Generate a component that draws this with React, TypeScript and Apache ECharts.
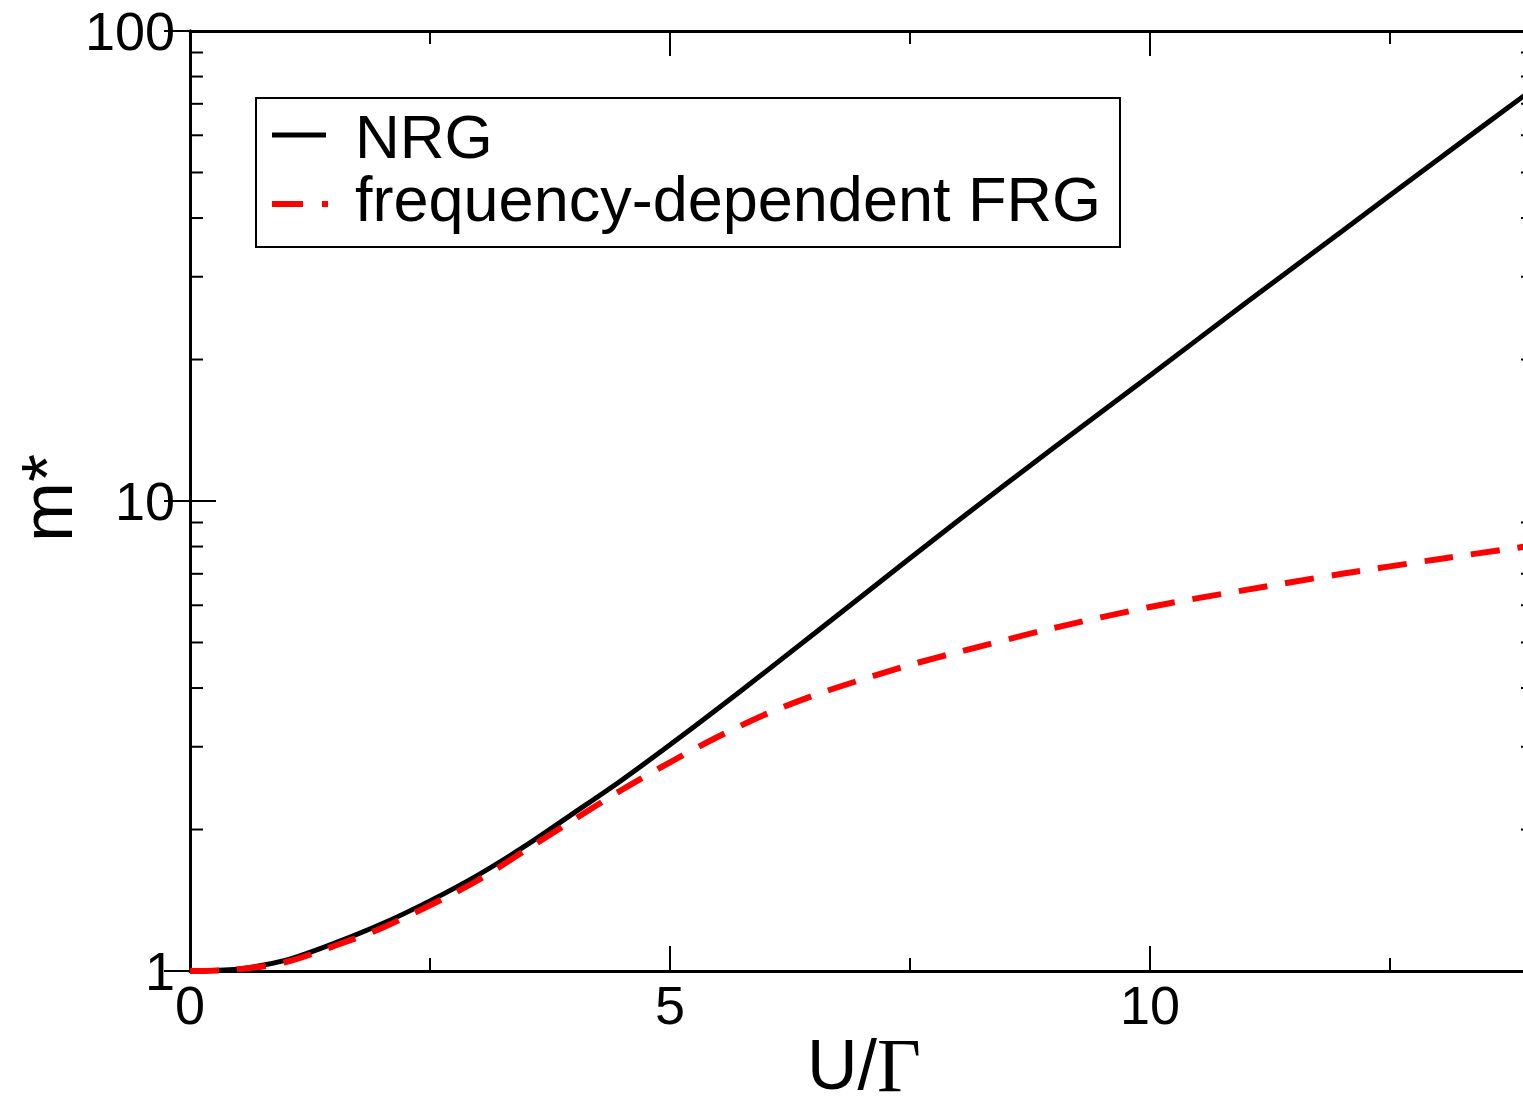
import React, { useEffect, useRef } from "react";
import * as echarts from "echarts";

// U/Gamma sample points
const uNRG = [0, 0.5, 1, 1.5, 2, 2.5, 3, 3.5, 4, 4.5, 5, 5.5, 6, 7, 8, 9, 10, 11, 12, 13, 14];
const mNRG = [1, 1.01, 1.055, 1.145, 1.26, 1.41, 1.6, 1.85, 2.17, 2.55, 3.03, 3.62, 4.34, 6.28, 9.08, 13.0, 18.5, 26.4, 37.5, 53.3, 75.5];

const uFRG = [0, 0.5, 1, 1.5, 2, 2.5, 3, 3.5, 4, 4.5, 5, 5.5, 6, 6.5, 7, 7.5, 8, 9, 10, 11, 12, 13, 14];
const mFRG = [1, 1.008, 1.045, 1.13, 1.235, 1.38, 1.56, 1.81, 2.1, 2.43, 2.78, 3.15, 3.52, 3.86, 4.17, 4.48, 4.77, 5.37, 5.95, 6.47, 7.0, 7.52, 8.05];

const xMinorTicks = [2.5, 7.5, 12.5];
const yMinorTicks = [2, 3, 4, 5, 6, 7, 8, 9, 20, 30, 40, 50, 60, 70, 80, 90];

const X_MIN = 0;
const X_MAX = 14;
const Y_MIN = 1;
const Y_MAX = 100;

const legendNames = ["NRG", "frequency-dependent FRG"];

const FONT = "Liberation Sans, Arial, Helvetica, sans-serif";

export default function App() {
  const ref = useRef<HTMLDivElement>(null);

  useEffect(() => {
    if (!ref.current) return;
    const chart = echarts.init(ref.current, null, { renderer: "svg" });

    const minorData: number[][] = [];
    yMinorTicks.forEach((v) => {
      minorData.push([X_MIN, v, 0]);
      minorData.push([X_MAX, v, 1]);
    });
    xMinorTicks.forEach((v) => {
      minorData.push([v, Y_MIN, 2]);
      minorData.push([v, Y_MAX, 3]);
    });

    const axisLine = { show: true, lineStyle: { color: "#000", width: 3 } };

    const option: any = {
      animation: false,
      backgroundColor: "#fff",
      grid: { left: 190, top: 31, width: 1344, height: 940, containLabel: false },
      xAxis: [
        {
          type: "value",
          min: X_MIN,
          max: X_MAX,
          interval: 5,
          position: "bottom",
          axisLine,
          axisTick: { show: true, inside: true, length: 25, lineStyle: { color: "#000", width: 2 } },
          axisLabel: {
            show: true,
            showMaxLabel: false,
            color: "#000",
            fontSize: 54,
            fontFamily: FONT,
            margin: 7,
          },
          splitLine: { show: false },
        },
        {
          type: "value",
          min: X_MIN,
          max: X_MAX,
          interval: 5,
          position: "top",
          axisLine,
          axisTick: { show: true, inside: true, length: 25, lineStyle: { color: "#000", width: 2 } },
          axisLabel: { show: false },
          splitLine: { show: false },
        },
      ],
      yAxis: [
        {
          type: "log",
          logBase: 10,
          min: Y_MIN,
          max: Y_MAX,
          position: "left",
          axisLine,
          axisTick: { show: true, inside: true, length: 26, lineStyle: { color: "#000", width: 2 } },
          axisLabel: {
            show: true,
            color: "#000",
            fontSize: 54,
            fontFamily: FONT,
            margin: 15,
          },
          splitLine: { show: false },
        },
        {
          type: "log",
          logBase: 10,
          min: Y_MIN,
          max: Y_MAX,
          position: "right",
          axisLine,
          axisTick: { show: true, inside: true, length: 26, lineStyle: { color: "#000", width: 2 } },
          axisLabel: { show: false },
          splitLine: { show: false },
        },
      ],
      series: [
        {
          name: legendNames[0],
          type: "line",
          data: uNRG.map((u, i) => [u, mNRG[i]]),
          showSymbol: false,
          smooth: 0.3,
          lineStyle: { color: "#000", width: 5 },
          z: 3,
        },
        {
          name: legendNames[1],
          type: "line",
          data: uFRG.map((u, i) => [u, mFRG[i]]),
          showSymbol: false,
          smooth: 0.3,
          lineStyle: { color: "#ff0000", width: 6, type: [29, 18] },
          z: 4,
        },
        {
          type: "custom",
          silent: true,
          clip: false,
          data: minorData,
          renderItem: (params: any, api: any) => {
            const side = api.value(2);
            const p = api.coord([api.value(0), api.value(1)]);
            let x2 = p[0];
            let y2 = p[1];
            if (side === 0) x2 += 13;
            else if (side === 1) x2 -= 13;
            else if (side === 2) y2 -= 13;
            else y2 += 13;
            return {
              type: "line",
              shape: { x1: p[0], y1: p[1], x2, y2 },
              style: { stroke: "#000", lineWidth: 2 },
            };
          },
        },
      ],
      graphic: [
        {
          type: "rect",
          shape: { x: 256, y: 98, width: 864, height: 149 },
          style: { fill: "#fff", stroke: "#000", lineWidth: 2 },
          z: 10,
        },
        {
          type: "line",
          shape: { x1: 272, y1: 135, x2: 326, y2: 135 },
          style: { stroke: "#000", lineWidth: 5 },
          z: 11,
        },
        {
          type: "line",
          shape: { x1: 272, y1: 204, x2: 328, y2: 204 },
          style: { stroke: "#ff0000", lineWidth: 6, lineDash: [31, 19] },
          z: 11,
        },
        {
          type: "text",
          x: 355,
          y: 136,
          z: 11,
          style: {
            text: legendNames[0],
            font: `62px ${FONT}`,
            lineHeight: 54,
            fill: "#000",
            align: "left",
            verticalAlign: "middle",
          },
        },
        {
          type: "text",
          x: 355,
          y: 199,
          z: 11,
          style: {
            text: legendNames[1],
            font: `63px ${FONT}`,
            lineHeight: 54,
            fill: "#000",
            align: "left",
            verticalAlign: "middle",
          },
        },
        {
          type: "text",
          x: 864,
          y: 1065,
          z: 11,
          style: {
            text: "{a|U/}{b|Γ}",
            align: "center",
            verticalAlign: "middle",
            fill: "#000",
            rich: {
              a: { fontFamily: FONT, fontSize: 70, lineHeight: 56, fill: "#000" },
              b: { fontFamily: "Liberation Serif, Times New Roman, serif", fontSize: 76, lineHeight: 56, fill: "#000" },
            },
          },
        },
        {
          type: "text",
          x: 47,
          y: 498,
          rotation: Math.PI / 2,
          z: 11,
          style: {
            text: "m*",
            font: `72px ${FONT}`,
            fill: "#000",
            align: "center",
            verticalAlign: "middle",
          },
        },
      ],
    };

    chart.setOption(option);
    return () => chart.dispose();
  }, []);

  return (
    <div
      style={{
        position: "absolute",
        left: 0,
        top: 0,
        width: 1523,
        height: 1100,
        overflow: "hidden",
        background: "#fff",
      }}
    >
      <div ref={ref} style={{ width: 1545, height: 1100 }} />
    </div>
  );
}
